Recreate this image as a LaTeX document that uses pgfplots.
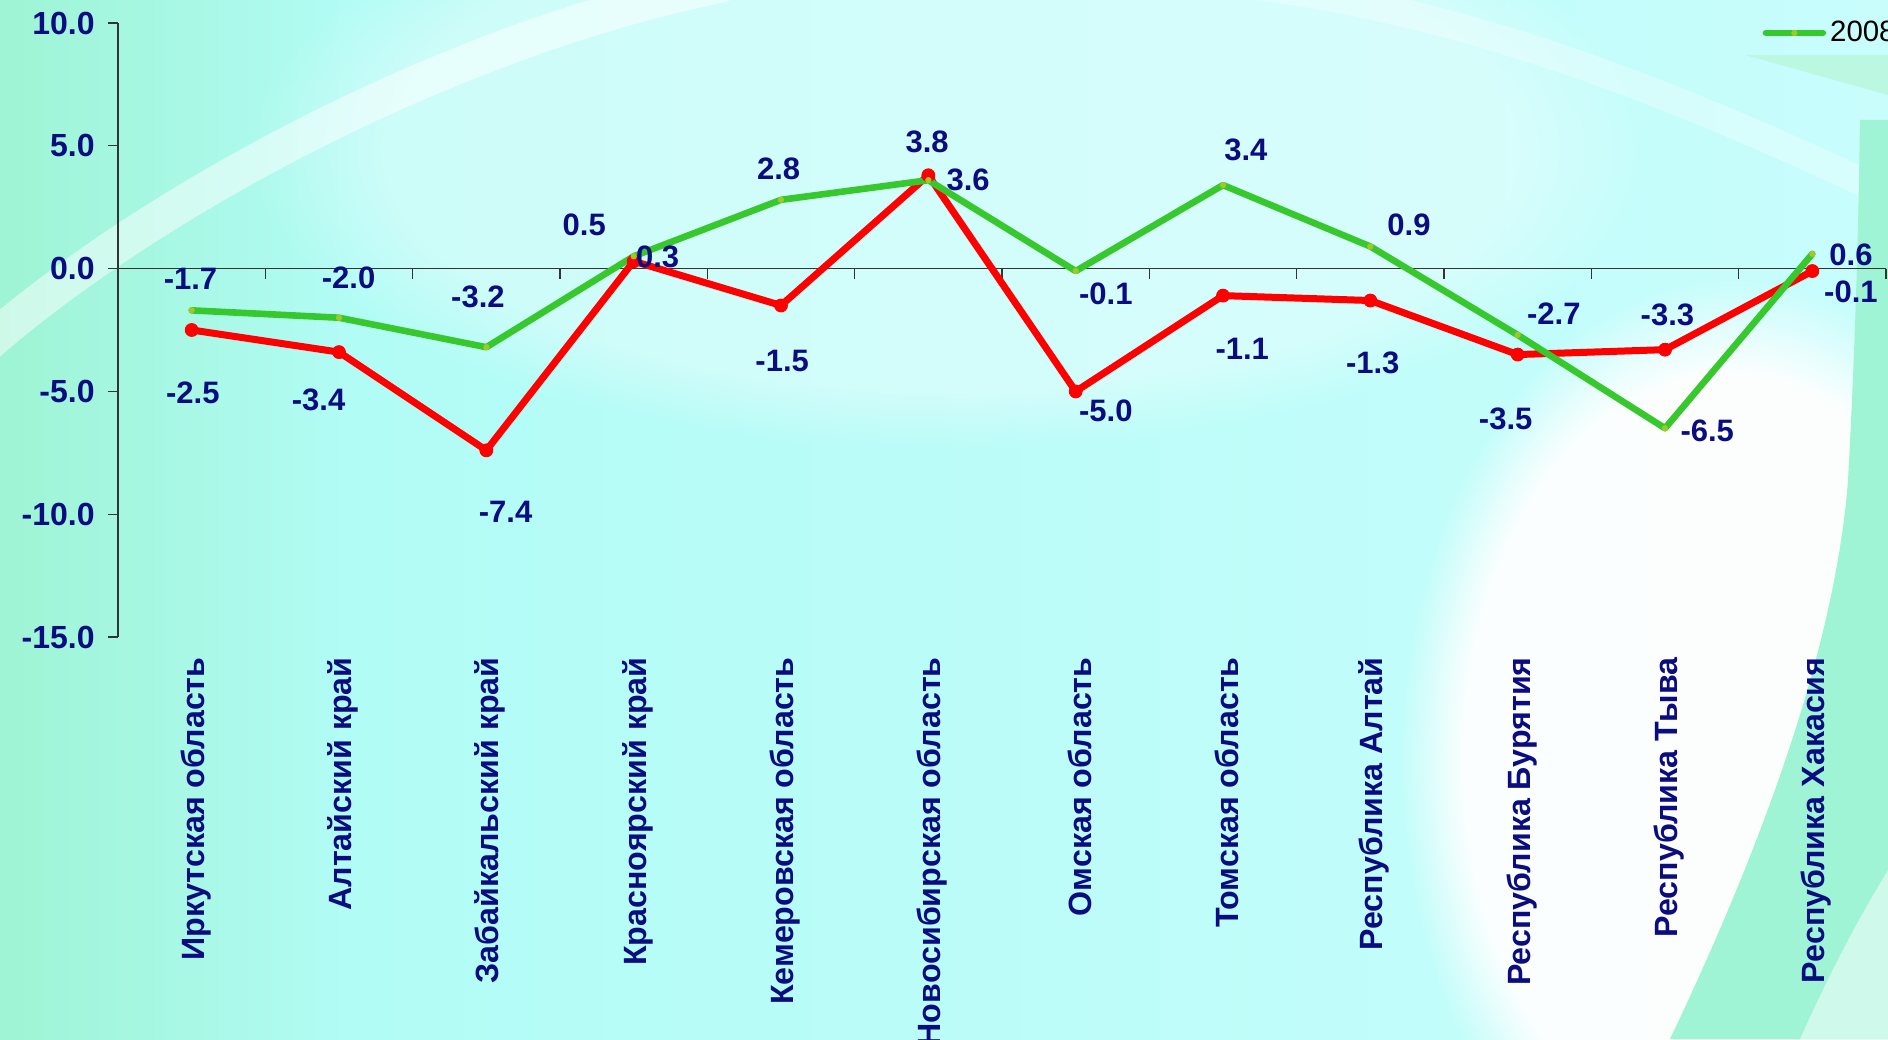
\documentclass[border=0pt]{standalone}
\usepackage{fontspec}
\setmainfont{Liberation Sans}
\usepackage{pgfplots}
\usepackage{pgfplotstable}
\pgfplotsset{compat=1.18}
\usetikzlibrary{fadings}
\definecolor{navyt}{RGB}{10,12,128}
\definecolor{lgreen}{RGB}{55,200,45}
\definecolor{lred}{RGB}{255,0,0}
\definecolor{mint}{RGB}{158,244,212}
\definecolor{cyanbg}{RGB}{178,252,246}
\definecolor{cyanlt}{RGB}{200,253,252}
\definecolor{gmark}{RGB}{160,200,40}

\pgfplotstableread{
x g r gdx gdy rdx rdy
0 -1.7 -2.5 -0.6 15.7 0.6 -31.3
1 -2.0 -3.4 4.8 19.9 -10.2 -24.1
2 -3.2 -7.4 -4.2 25.3 9.6 -30.7
3 0.5 0.3 -24.7 15.7 12 2.4
4 2.8 -1.5 -1.2 15.7 0.6 -27.7
5 3.6 3.8 19.9 0 -0.6 16.9
6 -0.1 -5.0 15.1 -11.4 15.1 -9.6
7 3.4 -1.1 11.4 17.5 9.6 -26.5
8 0.9 -1.3 19.3 10.8 1.2 -31.3
9 -2.7 -3.5 18.1 10.8 -6 -31.9
10 -6.5 -3.3 21.1 -1.2 1.2 17.5
11 0.6 -0.1 19.3 -0.6 19.3 -10.2
}\data

\begin{document}
\begin{tikzpicture}
\useasboundingbox (-59pt,-201pt) rectangle (885pt,318.5pt);
\clip (-59pt,-201pt) rectangle (885pt,318.5pt);
\begin{scope}[shift={(-59pt,318.5pt)}, x=0.5pt, y=-0.5pt]
  \shade[left color=mint, right color=cyanbg] (0,0) rectangle (360,1039);
  \shade[left color=cyanbg, right color=cyanlt] (359,0) rectangle (1888,1039);
  \fill[white, opacity=0.35, path fading=circle with fuzzy edge 20 percent] (950,150) ellipse [x radius=700, y radius=300];
  \fill[white, opacity=0.95, path fading=circle with fuzzy edge 20 percent] (1730,760) ellipse [x radius=330, y radius=480];
  \draw[white, opacity=0.5, line width=18pt, line cap=round] (-20,350) .. controls (150,200) and (450,40) .. (720,-15);
  \draw[white, opacity=0.3, line width=14pt] (1250,-15) .. controls (1450,10) and (1650,80) .. (1900,200);
  \fill[mint] (1670,1039) .. controls (1760,850) and (1835,650) .. (1848,480) .. controls (1855,350) and (1858,250) .. (1860,120) -- (1888,120) -- (1888,1039) -- cycle;
  \fill[mint!50!white] (1800,1039) .. controls (1840,950) and (1870,900) .. (1888,870) -- (1888,1039) -- cycle;
  \fill[mint!70!white] (1745,55) -- (1888,95) -- (1888,55) -- cycle;
\end{scope}
\begin{axis}[
  at={(0pt,0pt)}, anchor=south west,
  width=884pt, height=307pt, scale only axis,
  xmin=-0.5, xmax=11.5, ymin=-15, ymax=10,
  enlargelimits=false, clip=false,
  axis y line=left, axis x line=bottom,
  y axis line style={-, black!80, line width=0.6pt},
  x axis line style={draw=none},
  ytick={-15,-10,...,10},
  tick align=outside,
  major tick length=5pt,
  ytick style={black!80, line width=0.6pt},
  xtick style={draw=none},
  xtick={0,...,11},
  xticklabels={Иркутская область, Алтайский край, Забайкальский край, Красноярский край, Кемеровская область, Новосибирская область, Омская область, Томская область, Республика Алтай, Республика Бурятия, Республика Тыва, Республика Хакасия},
  xticklabel style={rotate=90, anchor=east, inner sep=0pt, xshift=-5pt, yshift=-2pt, font=\fontsize{16.1}{18}\selectfont\bfseries, text=navyt},
  yticklabel style={anchor=east, inner sep=0pt, xshift=-6.5pt, font=\fontsize{16}{18}\selectfont\bfseries, text=navyt},
  /pgf/number format/fixed,
  /pgf/number format/fixed zerofill,
  /pgf/number format/precision=1,
  /pgf/number format/assume math mode=true,
  legend style={at={(0.930,0.984)}, anchor=west, draw=none, fill=none, inner sep=0pt, font=\fontsize{14.7}{16}\selectfont, text=black},
  legend image code/.code={\draw[mark repeat=2,mark phase=2,#1] plot coordinates {(0cm,0cm)(0.5cm,0cm)(1cm,0cm)};},
]
\draw[black!80, line width=0.6pt] (axis cs:-0.5,0) -- (axis cs:11.5,0);
\pgfplotsinvokeforeach{0.5,1.5,2.5,3.5,4.5,5.5,6.5,7.5,8.5,9.5,10.5,11.5}{\draw[black!80, line width=0.6pt] (axis cs:#1,0) -- ++(0pt,-5pt);}

\addplot[lred, line width=3.5pt, line cap=round, line join=round, mark=*, mark size=3.2pt, mark options={fill=lred, draw=lred, line width=0.5pt},
  nodes near coords, point meta=y,
  visualization depends on={\thisrow{rdx}\as\dx},
  visualization depends on={\thisrow{rdy}\as\dy},
  nodes near coords style={anchor=center, inner sep=0pt, xshift=\dx pt, yshift=\dy pt, font=\fontsize{15.5}{16}\selectfont\bfseries, text=navyt},
  forget plot] table[x=x, y=r] {\data};

\addplot[lgreen, line width=3.3pt, line cap=round, line join=round, mark=*, mark size=1.4pt, mark options={fill=gmark, draw=gmark, line width=0.3pt},
  nodes near coords, point meta=y,
  visualization depends on={\thisrow{gdx}\as\dx},
  visualization depends on={\thisrow{gdy}\as\dy},
  nodes near coords style={anchor=center, inner sep=0pt, xshift=\dx pt, yshift=\dy pt, font=\fontsize{15.5}{16}\selectfont\bfseries, text=navyt}] table[x=x, y=g] {\data};
\addlegendentry{2008}
\end{axis}
\end{tikzpicture}
\end{document}
